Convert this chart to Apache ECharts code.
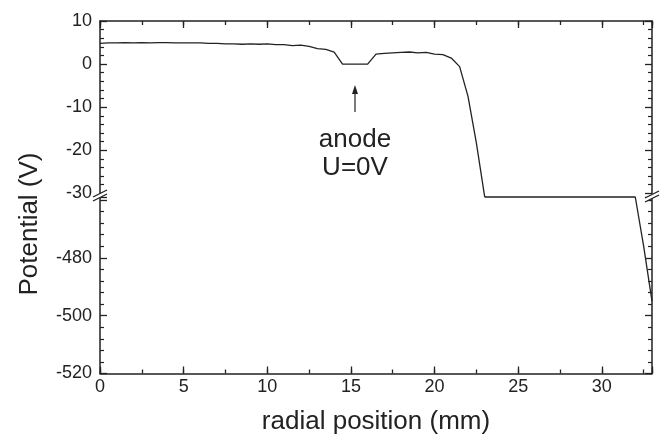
<!DOCTYPE html>
<html><head><meta charset="utf-8">
<script src="https://cdn.jsdelivr.net/npm/echarts@6/dist/echarts.min.js"></script>
<style>html,body{margin:0;padding:0;background:#fff}#c{width:661px;height:434px}</style>
</head><body><div id="c"></div>
<script>
// Upper section (V, -30..10)
const xUpper = [0,0.5,1,1.5,2,2.5,3,3.5,4,4.5,5,5.5,6,6.5,7,7.5,8,8.5,9,9.5,10,10.5,11,11.5,12,12.5,13,13.5,14,14.5,16,16.5,17,17.5,18,18.5,19,19.5,20,20.5,21,21.5,22,22.5,23];
const yUpper = [4.8,4.9,4.9,5.0,4.9,5.0,4.9,5.0,5.0,4.9,4.9,4.9,4.9,4.8,4.8,4.7,4.7,4.6,4.7,4.6,4.7,4.5,4.5,4.3,4.4,4.1,3.6,3.4,2.8,0,0,2.3,2.5,2.6,2.7,2.8,2.6,2.7,2.3,2.2,1.4,-0.6,-7.5,-18.3,-30.9];
// Lower section (V, -520..-459)
const xLower = [23,32,32.5,33];
const yLower = [-459,-459,-476,-495];
const xTicks = {min:0, max:33, major:5, minor:2.5};
const yUpperTicks = {min:-30, max:10, interval:10};
const yLowerTicks = {min:-520, max:-459, interval:20};

const C = '#222';
const FONT = 'Liberation Sans, Arial, sans-serif';
const axisLine = {show:true, onZero:false, lineStyle:{color:C, width:1.5}};
function xAx(grid, pos, major, labels){
  return {
    gridIndex:grid, type:'value', position:pos, min:xTicks.min, max:xTicks.max,
    interval: major ? xTicks.major : xTicks.minor,
    axisLine: major ? axisLine : {show:false, onZero:false},
    axisTick:{show:true, inside:true, length: major?7:4, lineStyle:{color:C, width:1.3}},
    axisLabel:{show:labels, color:C, fontSize:18, fontFamily:FONT, margin:5,
      formatter: v => (v % 5 === 0 ? String(v) : '')},
    splitLine:{show:false},
    name: labels ? 'radial position (mm)' : '',
    nameLocation:'middle', nameGap:35,
    nameTextStyle:{color:C, fontSize:26, fontFamily:FONT}
  };
}
function yAx(grid, pos, t, labels){
  return {
    gridIndex:grid, type:'value', position:pos, min:t.min, max:t.max, interval:t.interval,
    axisLine, axisTick:{show:true, inside:true, length:7, lineStyle:{color:C, width:1.3}},
    minorTick:{show:true, splitNumber:5, length:4, lineStyle:{color:C, width:1.2}},
    axisLabel:{show:labels, color:C, fontSize:18, fontFamily:FONT, margin:8,
      showMaxLabel: t.max % t.interval === 0,
      formatter: v => (v % t.interval === 0 && v !== -460 ? String(v) : '')},
    splitLine:{show:false}
  };
}
const chart = echarts.init(document.getElementById('c'), null, {renderer:'canvas'});
const brk = (cx, cy) => [
  {type:'polygon', z:100, shape:{points:[[cx-7,cy+3],[cx+7,cy-4],[cx+7,cy],[cx-7,cy+7]]}, style:{fill:'#fff'}},
  {type:'line', z:101, shape:{x1:cx-7,y1:cy+3,x2:cx+7,y2:cy-4}, style:{stroke:C, lineWidth:1.3}},
  {type:'line', z:101, shape:{x1:cx-7,y1:cy+7,x2:cx+7,y2:cy}, style:{stroke:C, lineWidth:1.3}}
];
chart.setOption({
  animation:false,
  backgroundColor:'#fff',
  grid:[
    {left:100, right:9, top:21, height:172.3, containLabel:false, outerBoundsMode:'none'},
    {left:100, right:9, top:197, height:176.5, containLabel:false, outerBoundsMode:'none'}
  ],
  xAxis:[
    xAx(0,'top',true,false), xAx(0,'top',false,false),
    xAx(1,'bottom',true,true), xAx(1,'bottom',false,false)
  ],
  yAxis:[
    yAx(0,'left',yUpperTicks,true), yAx(0,'right',yUpperTicks,false),
    yAx(1,'left',yLowerTicks,true), yAx(1,'right',yLowerTicks,false)
  ],
  series:[
    {type:'line', xAxisIndex:0, yAxisIndex:0, clip:false, symbol:'none',
      data: xUpper.map((x,i)=>[x,yUpper[i]]), lineStyle:{color:C, width:1.3}},
    {type:'line', xAxisIndex:2, yAxisIndex:2, clip:false, symbol:'none',
      data: xLower.map((x,i)=>[x,yLower[i]]), lineStyle:{color:C, width:1.3}}
  ],
  graphic:[
    ...brk(100,194), ...brk(652,195),
    {type:'text', x:30, y:224, rotation:Math.PI/2, z:50,
      style:{text:'Potential (V)', fill:C, font:'26px '+FONT, textAlign:'center', textVerticalAlign:'middle'}},
    {type:'line', shape:{x1:355,y1:112,x2:355,y2:92}, style:{stroke:C, lineWidth:1.2}},
    {type:'polygon', shape:{points:[[352,94],[358,94],[355,85]]}, style:{fill:C}},
    {type:'text', x:355, y:140, style:{text:'anode', fill:C, font:'26px '+FONT, textAlign:'center', textVerticalAlign:'middle'}},
    {type:'text', x:355, y:168, style:{text:'U=0V', fill:C, font:'26px '+FONT, textAlign:'center', textVerticalAlign:'middle'}}
  ]
});
</script></body></html>
